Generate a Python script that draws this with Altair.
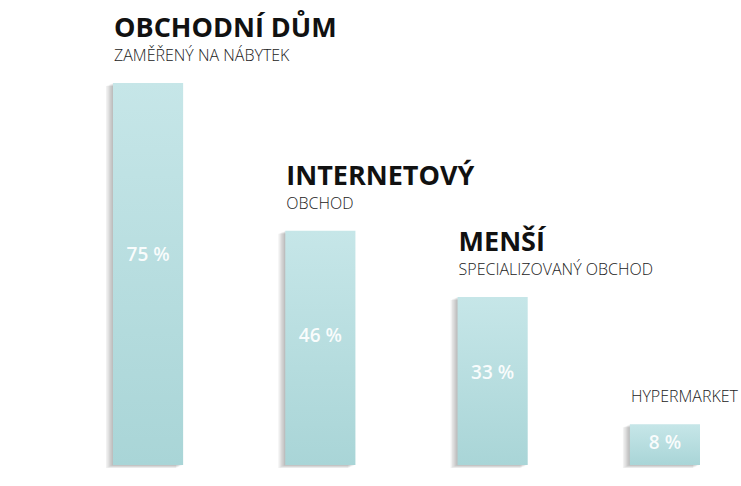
import altair as alt
import pandas as pd

keys = ["a", "b", "c", "d"]
titles = ["OBCHODNÍ DŮM", "INTERNETOVÝ", "MENŠÍ", ""]
subtitles = ["ZAMĚŘENÝ NA NÁBYTEK", "OBCHOD", "SPECIALIZOVANÝ OBCHOD", "HYPERMARKET"]
values = [75, 46, 33, 8]

df = pd.DataFrame({"key": keys, "title": titles, "subtitle": subtitles, "value": values})

FONT = "Open Sans"


def xscale():
    return alt.Scale(range=[113, 700], paddingInner=0.593, paddingOuter=0)


x_enc = alt.X("key:N", sort=keys, axis=None, scale=xscale())
y_scale = alt.Scale(domain=[0, 75], range=[465, 83], nice=False, zero=True)
y_enc = alt.Y("value:Q", axis=None, scale=y_scale)

base = alt.Chart(df)

shadows = []
for k in range(1, 6):
    shadows.append(
        base.mark_bar(color="#000000", opacity=0.055, xOffset=-1.4 * k, yOffset=0.6 * k,
                      y2Offset=1.4 * k)
        .encode(x=x_enc, y=y_enc)
    )

bars = base.mark_bar(
    color=alt.Gradient(
        gradient="linear",
        stops=[alt.GradientStop(color="#c6e6e8", offset=0),
               alt.GradientStop(color="#a9d5d7", offset=1)],
        x1=0, x2=0, y1=0, y2=1,
    )
).encode(x=x_enc, y=y_enc)

labels = base.transform_calculate(
    mid="datum.value * 0.55", lab="datum.value + ' %'"
).mark_text(font=FONT, fontSize=19, fontWeight=600, color="#ffffff", opacity=0.92,
            baseline="middle", align="center").encode(
    x=alt.X("key:N", sort=keys, axis=None, scale=xscale()),
    y=alt.Y("mid:Q", axis=None, scale=y_scale),
    text="lab:N",
)

x_left = alt.X("key:N", sort=keys, axis=None, bandPosition=0, scale=xscale())

title_text = base.mark_text(font=FONT, fontSize=27, fontWeight="bold", color="#111111",
                            align="left", baseline="alphabetic", dy=-46, dx=1).encode(
    x=x_left, y=y_enc, text="title:N")

sub_text = base.mark_text(font=FONT, fontSize=16, fontWeight=300, color="#222222",
                          align="left", baseline="alphabetic", dy=-22, dx=1).encode(
    x=x_left, y=y_enc, text="subtitle:N")

chart = alt.layer(*shadows, bars, labels, title_text, sub_text).properties(
    width=741, height=486, padding=0, autosize=alt.AutoSizeParams(type="none"),
    background="#ffffff",
).configure_view(strokeWidth=0)

chart.save("out.html", embed_options={"renderer": "svg", "actions": False})
